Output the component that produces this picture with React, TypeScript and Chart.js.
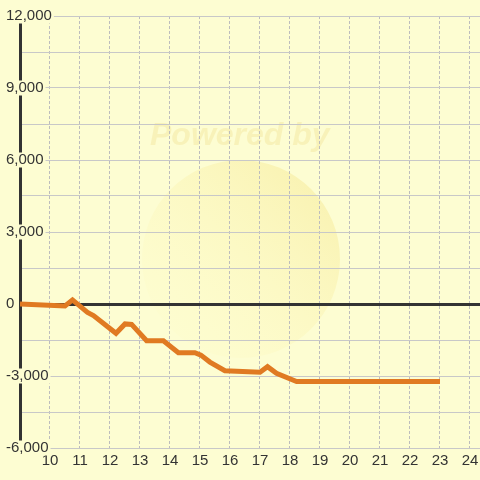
import React, { useEffect, useRef } from "react";
import { Chart, registerables } from "chart.js";

Chart.register(...registerables);

// Data (hours of day vs. cumulative value)
const hours = [9, 10.5, 10.75, 11.25, 11.45, 12.2, 12.5, 12.72, 13.22, 13.78, 14.28, 14.83, 15.03, 15.33, 15.83, 17.0, 17.25, 17.55, 18.22, 23];
const values = [0, -80, 170, -350, -480, -1220, -830, -850, -1530, -1530, -2030, -2030, -2130, -2420, -2780, -2840, -2610, -2890, -3230, -3230];
const xTickValues = [10, 11, 12, 13, 14, 15, 16, 17, 18, 19, 20, 21, 22, 23, 24];
const yMin = -6000;
const yMax = 12000;
const yGridStep = 1500;
const yLabelStep = 3000;
const watermarkText = "Powered by";

const BG = "#fdfdd2";
const TEXT = "#333333";
const GRID = "#c8c8c8";

const watermarkPlugin = {
  id: "bgWatermark",
  beforeDraw(chart: any) {
    const { ctx, width, height } = chart;
    ctx.save();
    ctx.fillStyle = BG;
    ctx.fillRect(0, 0, width, height);
    // faint circle
    const cx = 241, cy = 259, r = 99;
    const g = ctx.createLinearGradient(cx - 70, cy + 70, cx + 90, cy - 90);
    g.addColorStop(0, "rgba(255,250,190,0.15)");
    g.addColorStop(1, "rgba(243,226,130,0.45)");
    ctx.fillStyle = g;
    ctx.beginPath();
    ctx.arc(cx, cy, r, 0, Math.PI * 2);
    ctx.fill();
    // text
    ctx.font = "italic bold 32px 'Liberation Sans', Arial, sans-serif";
    ctx.fillStyle = "rgba(238,220,130,0.3)";
    ctx.textBaseline = "alphabetic";
    ctx.textAlign = "left";
    ctx.fillText(watermarkText, 150, 145);
    ctx.restore();
  },
};

export default function App() {
  const ref = useRef<HTMLCanvasElement>(null);
  useEffect(() => {
    if (!ref.current) return;
    const chart = new Chart(ref.current, {
      type: "line",
      data: {
        datasets: [
          {
            data: hours.map((h, i) => ({ x: h, y: values[i] })),
            borderColor: "#e07a22",
            borderWidth: 5,
            pointRadius: 0,
            tension: 0,
            fill: false,
          },
        ],
      },
      options: {
        animation: false,
        responsive: false,
        layout: { padding: { left: 6, top: 16, right: 0, bottom: 6 } },
        plugins: { legend: { display: false }, tooltip: { enabled: false } },
        scales: {
          x: {
            type: "linear",
            min: 9,
            max: 24.3334,
            afterBuildTicks: (scale: any) => {
              scale.ticks = xTickValues.map((v) => ({ value: v }));
            },
            afterFit: (scale: any) => {
              scale.paddingLeft = 0;
              scale.paddingRight = 0;
            },
            grid: { color: "#bdbdbd", lineWidth: 1, drawTicks: false },
            border: { display: false, dash: [3, 2] },
            ticks: {
              padding: 4,
              color: TEXT,
              font: { family: "'Liberation Sans', Arial, sans-serif", size: 15 },
              maxRotation: 0,
              autoSkip: false,
              callback: (v: any) => String(v),
            },
          },
          y: {
            type: "linear",
            min: yMin,
            max: yMax,
            afterFit: (scale: any) => {
              scale.width = 14;
            },
            grid: {
              drawTicks: false,
              color: (ctx: any) => (ctx.tick && ctx.tick.value === 0 ? "#333333" : GRID),
              lineWidth: (ctx: any) => (ctx.tick && ctx.tick.value === 0 ? 3 : 1),
            },
            border: { display: true, color: "#333333", width: 3 },
            ticks: {
              stepSize: yGridStep,
              mirror: true,
              crossAlign: "near",
              padding: -14,
              color: TEXT,
              font: { family: "'Liberation Sans', Arial, sans-serif", size: 15, lineHeight: 1 },
              showLabelBackdrop: true,
              backdropPadding: { top: 0, bottom: 0, left: 1, right: 2 },
              backdropColor: (ctx: any) => (ctx.tick && ctx.tick.value % yLabelStep === 0 ? BG : "rgba(0,0,0,0)"),
              callback: (v: any) => (Number(v) % yLabelStep === 0 ? Number(v).toLocaleString("en-US") : ""),
            },
          },
        },
      } as any,
      plugins: [watermarkPlugin],
    });
    return () => chart.destroy();
  }, []);
  return (
    <div style={{ position: "absolute", left: 0, top: 0, width: 480, height: 480 }}>
      <canvas ref={ref} width={480} height={480} style={{ display: "block" }} />
    </div>
  );
}
